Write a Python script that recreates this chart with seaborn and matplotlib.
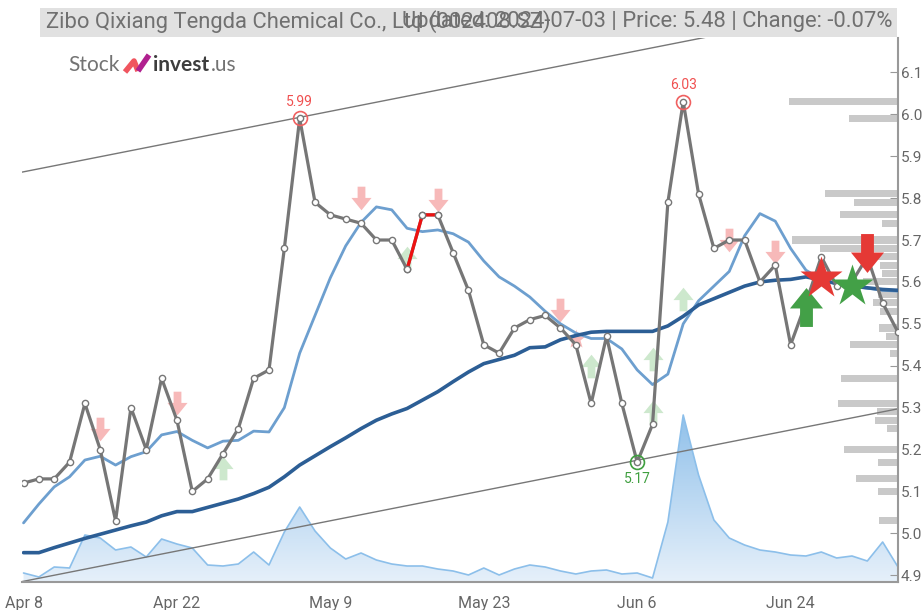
import numpy as np
import pandas as pd
import matplotlib
matplotlib.use("Agg")
import matplotlib.pyplot as plt
import seaborn as sns
from matplotlib.path import Path
from matplotlib.patches import Rectangle
from matplotlib.lines import Line2D

# ---- data ----
tick_pos = [0, 10, 20, 30, 40, 50]
tick_labels = ["Apr 8", "Apr 22", "May 9", "May 23", "Jun 6", "Jun 24"]

price = [5.12, 5.13, 5.13, 5.17, 5.31, 5.20, 5.03, 5.30, 5.20, 5.37,
         5.27, 5.10, 5.13, 5.19, 5.25, 5.37, 5.39, 5.68, 5.99, 5.79,
         5.76, 5.75, 5.74, 5.70, 5.70, 5.63, 5.76, 5.76, 5.67, 5.58,
         5.45, 5.43, 5.49, 5.51, 5.52, 5.49, 5.45, 5.31, 5.47, 5.31,
         5.17, 5.26, 5.79, 6.03, 5.81, 5.68, 5.70, 5.70, 5.60, 5.64,
         5.45, 5.55, 5.66, 5.59, 5.60, 5.66, 5.55, 5.48]

ma_fast = [5.025, 5.07, 5.111, 5.135, 5.175, 5.184, 5.163, 5.183, 5.195, 5.235,
           5.243, 5.222, 5.204, 5.220, 5.222, 5.244, 5.242, 5.30, 5.43, 5.52,
           5.61, 5.686, 5.742, 5.779, 5.772, 5.728, 5.72, 5.724, 5.715, 5.695,
           5.65, 5.612, 5.59, 5.564, 5.53, 5.50, 5.478, 5.465, 5.465, 5.44,
           5.39, 5.355, 5.38, 5.50, 5.555, 5.59, 5.625, 5.71, 5.763, 5.745,
           5.68, 5.628, 5.606, 5.595, 5.59, 5.585, 5.58, 5.578]

ma_slow = [4.954, 4.954, 4.966, 4.977, 4.988, 4.998, 5.008, 5.018, 5.027, 5.042,
           5.052, 5.052, 5.062, 5.072, 5.082, 5.095, 5.110, 5.135, 5.163, 5.185,
           5.207, 5.228, 5.250, 5.270, 5.285, 5.298, 5.318, 5.338, 5.362, 5.385,
           5.405, 5.415, 5.425, 5.443, 5.445, 5.462, 5.472, 5.480, 5.482, 5.482,
           5.482, 5.482, 5.495, 5.518, 5.545, 5.560, 5.575, 5.590, 5.600, 5.604,
           5.606, 5.612, 5.605, 5.596, 5.590, 5.586, 5.582, 5.580]

volume = [9, 5, 15, 14, 47, 44, 32, 35, 25, 43,
          38, 34, 17, 16, 18, 30, 17, 50, 75, 51,
          34, 23, 29, 22, 18, 16, 16, 13, 11, 7,
          14, 7, 13, 17, 15, 11, 8, 11, 12, 8,
          9, 4, 60, 167, 107, 62, 44, 37, 32, 30,
          27, 26, 30, 24, 26, 21, 40, 15]

# volume profile on the right edge
prof_level = [6.03, 5.99, 5.81, 5.79, 5.76, 5.74, 5.70, 5.68, 5.66, 5.64,
              5.62, 5.60, 5.57, 5.55, 5.53, 5.49, 5.47, 5.45, 5.43, 5.37,
              5.31, 5.29, 5.27, 5.25, 5.20, 5.17, 5.13, 5.10, 5.03]
prof_vol = [109, 49, 73, 44, 58, 16, 106, 78, 30, 18,
            16, 35, 20, 25, 18, 19, 12, 48, 8, 57,
            60, 21, 23, 11, 54, 20, 42, 20, 19]

# trend channel
chan_low0, chan_high0, chan_slope = 4.8857, 5.8627, 0.00722

# signals
weak_sell_idx = [5, 10, 22, 27, 35, 46, 49]
weak_sell_y = [5.25, 5.31, 5.80, 5.795, 5.533, 5.70, 5.672]
weak_buy_idx = [13, 25, 37, 41, 41, 43]
weak_buy_y = [5.155, 5.656, 5.40, 5.417, 5.29, 5.56]
weak_star_idx, weak_star_y = [36], [5.463]
buy_idx, buy_y = [51], [5.54]
sell_idx, sell_y = [55], [5.668]
star_sell_idx, star_sell_y = [52], [5.61]
star_buy_idx, star_buy_y = [54], [5.59]

red_seg = [25, 26, 27]
hi_idx = [18, 43]
lo_idx = [40]

df = pd.DataFrame({"i": np.arange(len(price)), "price": price,
                   "fast": ma_fast, "slow": ma_slow, "vol": volume})

# ---- figure ----
W, H = 923, 610
sns.set_style("white")
plt.rcParams["font.family"] = ["Roboto", "DejaVu Sans"]
fig = plt.figure(figsize=(W / 100, H / 100), dpi=100)
fig.patch.set_facecolor("white")

ax = fig.add_axes([22 / W, 28 / H, 876 / W, 544 / H])
ax_vol = ax.twinx()
ax_vol.set_zorder(0)
ax.set_zorder(2)
ax.patch.set_visible(False)

xmin, xmax = -0.1, 57.0
ymin, ymax = 4.884, 6.182

# volume area with gradient
poly = ax_vol.fill_between(df["i"], 0, df["vol"], color="none", lw=0)
grad = np.linspace(0, 1, 256).reshape(-1, 1)
cmap = matplotlib.colors.LinearSegmentedColormap.from_list("g", ["#e6f0fa", "#8fc0ea"])
img = ax_vol.imshow(grad, aspect="auto", cmap=cmap, origin="lower",
                    extent=[xmin, xmax, 0, 170], zorder=1)
img.set_clip_path(poly.get_paths()[0], transform=ax_vol.transData)
sns.lineplot(data=df, x="i", y="vol", ax=ax_vol, color="#8cbfea", lw=1.2)
ax_vol.set_xlim(xmin, xmax)
ax_vol.set_ylim(0, 544)
ax_vol.axis("off")

# profile bars
prof_w = [v / 876 * (xmax - xmin) for v in prof_vol]
ax.barh(prof_level, prof_w, left=[xmax - w for w in prof_w], height=0.017,
        color="#c9c9c9", lw=0, zorder=1)

# channel
xs = np.array([xmin, xmax])
ax.plot(xs, chan_low0 + chan_slope * xs, color="#777777", lw=1, zorder=2)
ax.plot(xs, chan_high0 + chan_slope * xs, color="#777777", lw=1, zorder=2)

# arrow marker paths
down = Path([(-0.33, 1), (0.33, 1), (0.33, 0.05), (0.85, 0.05), (0, -1),
             (-0.85, 0.05), (-0.33, 0.05), (-0.33, 1)], closed=True)
up = Path([(x, -y) for x, y in down.vertices], closed=True)

ax.plot(weak_sell_idx, weak_sell_y, ls="none", marker=down, ms=17,
        color="#f7b9b9", mec="none", zorder=2.5)
ax.plot(weak_buy_idx, weak_buy_y, ls="none", marker=up, ms=17,
        color="#cde8cd", mec="none", zorder=2.5)
ax.plot(weak_star_idx, weak_star_y, ls="none", marker="*", ms=14,
        color="#f7b9b9", mec="none", zorder=2.5)

# moving averages
sns.lineplot(data=df, x="i", y="fast", ax=ax, color="#6d9fcf", lw=2.0, zorder=3)
sns.lineplot(data=df, x="i", y="slow", ax=ax, color="#2c5e95", lw=2.6, zorder=3.2)

# price
sns.lineplot(data=df, x="i", y="price", ax=ax, color="#767676", lw=2.3,
             marker="o", ms=4.5, mfc="white", mec="#777777", mew=1, zorder=4)
seg = df.iloc[red_seg]
ax.plot(seg["i"], seg["price"], color="#ee1111", lw=2.3, zorder=4.2)
ax.plot(seg["i"], seg["price"], ls="none", marker="o", ms=4.5, mfc="white",
        mec="#777777", mew=1, zorder=4.3)

# highs / lows
for k in hi_idx:
    ax.plot(k, price[k], "o", ms=10, mfc="none", mec="#f06060", mew=1.2, zorder=5)
    ax.annotate(f"{price[k]:.2f}", (k, price[k]), xytext=(0, 7), textcoords="offset points",
                ha="center", va="bottom", color="#f05050", fontsize=10)
for k in lo_idx:
    ax.plot(k, price[k], "o", ms=10, mfc="none", mec="#3f9f3f", mew=1.2, zorder=5)
    ax.annotate(f"{price[k]:.2f}", (k, price[k]), xytext=(0, -7), textcoords="offset points",
                ha="center", va="top", color="#3f9f3f", fontsize=10)

# strong signals
ax.plot(buy_idx, buy_y, ls="none", marker=up, ms=28, color="#43a047", mec="none", zorder=6)
ax.plot(sell_idx, sell_y, ls="none", marker=down, ms=28, color="#e53935", mec="none", zorder=6)
ax.plot(star_sell_idx, star_sell_y, ls="none", marker="*", ms=32, color="#e53935", mec="none", zorder=6)
ax.plot(star_buy_idx, star_buy_y, ls="none", marker="*", ms=32, color="#43a047", mec="none", zorder=6)

# axes styling
ax.set_xlim(xmin, xmax)
ax.set_ylim(ymin, ymax)
ax.set_xlabel("")
ax.set_ylabel("")
ax.yaxis.tick_right()
ax.set_yticks(np.round(np.arange(4.9, 6.15, 0.1), 1))
ax.yaxis.set_major_formatter(matplotlib.ticker.FormatStrFormatter("%.1f"))
ax.set_xticks(tick_pos)
ax.set_xticklabels(tick_labels)
for s in ["top", "left"]:
    ax.spines[s].set_visible(False)
for s in ["right", "bottom"]:
    ax.spines[s].set_color("#999999")
    ax.spines[s].set_linewidth(1.5)
ax.tick_params(axis="y", direction="in", length=6, color="#999999", labelcolor="#666666",
               labelsize=11, pad=2, right=True, left=False)
ax.tick_params(axis="x", direction="out", length=6, color="#999999", labelcolor="#666666",
               labelsize=11.5, pad=4)
ax.grid(False)

# title bar (company name and update line overlap, as in the source)
fig.add_artist(Rectangle((40 / W, 1 - 37 / H), 857 / W, 29 / H, transform=fig.transFigure,
                         color="#e1e1e1", lw=0, zorder=0))
fig.text(46 / W, 1 - 22 / H, "Zibo Qixiang Tengda Chemical Co., Ltd (002408.SZ)",
         ha="left", va="center", color="#707070", fontsize=15.8)
fig.text(892 / W, 1 - 22 / H, "Updated: 2024-07-03 | Price: 5.48 | Change: -0.07%",
         ha="right", va="center", color="#707070", fontsize=15.8)

# logo
fig.text(68 / W, 1 - 65 / H, "Stock", ha="left", va="center", color="#737373",
         fontsize=15, family=["Lato", "DejaVu Sans"])
fig.add_artist(Line2D([125 / W, 134 / W, 138 / W], [1 - 72 / H, 1 - 61 / H, 1 - 71 / H],
                      transform=fig.transFigure, color="#f0555f", lw=4, solid_capstyle="butt"))
fig.add_artist(Line2D([138 / W, 149 / W], [1 - 71 / H, 1 - 55 / H],
                      transform=fig.transFigure, color="#b0208f", lw=4, solid_capstyle="butt"))
fig.text(153 / W, 1 - 65 / H, "invest", ha="left", va="center", color="#3d3d3d",
         fontsize=15, fontweight="bold", family=["Lato", "DejaVu Sans"])
fig.text(211 / W, 1 - 65 / H, ".us", ha="left", va="center", color="#737373",
         fontsize=15, family=["Lato", "DejaVu Sans"])

fig.savefig("out.png", dpi=100)
